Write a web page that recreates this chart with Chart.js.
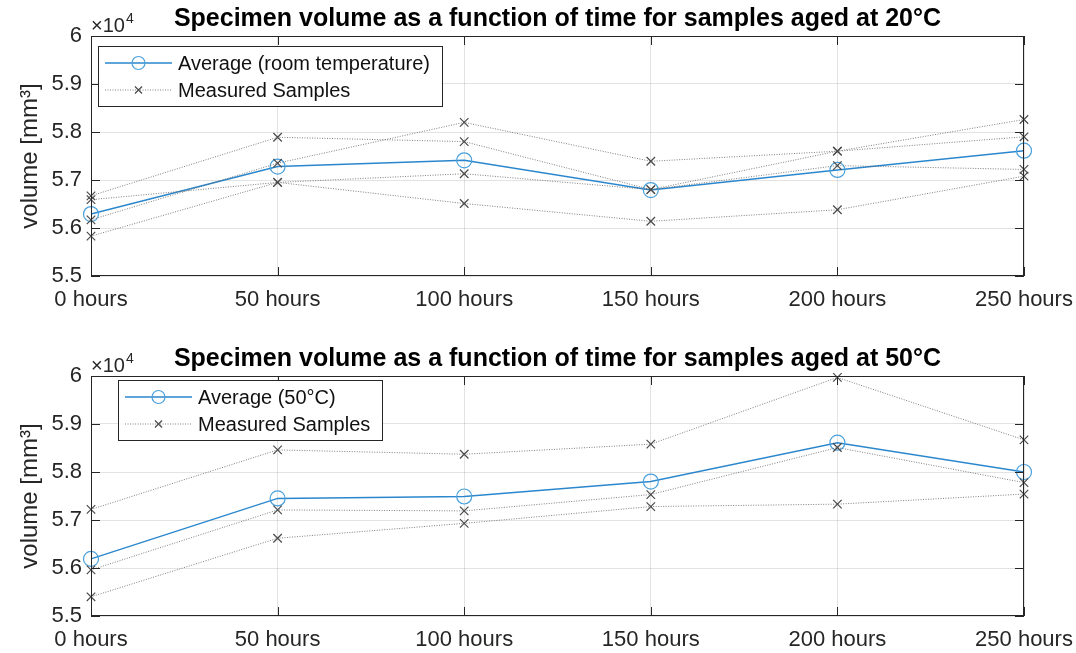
<!DOCTYPE html>
<html>
<head>
<meta charset="utf-8">
<script src="https://cdn.jsdelivr.net/npm/chart.js@4.4.1/dist/chart.umd.min.js"></script>
<style>
  body { margin: 0; background: #fff; width: 1076px; height: 653px; overflow: hidden; position: relative; }
  canvas { position: absolute; left: 0; }
  #chart20 { top: 0; }
  #chart50 { top: 340px; }
</style>
</head>
<body>
<canvas id="chart20" width="1076" height="326"></canvas>
<canvas id="chart50" width="1076" height="313"></canvas>
<script>
const hours = ['0 hours', '50 hours', '100 hours', '150 hours', '200 hours', '250 hours'];
const yTickValues = [55000, 56000, 57000, 58000, 59000, 60000];
const yExponent = 4;

// aged at 20°C (room temperature), volume in mm^3
const avg20 = [56290, 57280, 57410, 56790, 57210, 57610];
const s20a = [56670, 57890, 57800, 56800, 57600, 57900];
const s20b = [56170, 57350, 58200, 57390, 57600, 58260];
const s20c = [56590, 56950, 57130, 56800, 57300, 57220];
const s20d = [55830, 56950, 56510, 56140, 56380, 57080];

// aged at 50°C
const avg50 = [56190, 57450, 57490, 57800, 58610, 58000];
const s50a = [57220, 58460, 58370, 58580, 59970, 58670];
const s50b = [55960, 57210, 57190, 57530, 58510, 57780];
const s50c = [55400, 56620, 56930, 57280, 57330, 57540];

const FONT = '"Liberation Sans", Arial, Helvetica, sans-serif';
const AXIS_COLOR = '#262626';
const BLUE = '#2b87cd';

function avgDataset(label, data) {
    return {
        label: label,
        data: data,
        borderColor: BLUE,
        borderWidth: 1.5,
        pointStyle: 'circle',
        pointRadius: 7.5,
        pointBackgroundColor: 'rgba(0,0,0,0)',
        pointBorderColor: '#4aa0dc',
        pointBorderWidth: 1.2,
        tension: 0,
        clip: false,
        order: 1
    };
}

function sampleDataset(data) {
    return {
        label: 'Measured Samples',
        data: data,
        borderColor: 'rgba(95,95,95,0.8)',
        borderWidth: 1,
        borderDash: [1, 1.5],
        pointStyle: 'crossRot',
        pointRadius: 6,
        pointBorderColor: '#4a4a4a',
        pointBorderWidth: 1.2,
        tension: 0,
        clip: false,
        order: 0
    };
}

function drawLegendRow(ctx, x0, x1, y, ds, text, textX) {
    ctx.save();
    ctx.strokeStyle = ds.borderColor;
    ctx.lineWidth = ds.borderWidth;
    ctx.setLineDash(ds.borderDash || []);
    ctx.beginPath();
    ctx.moveTo(x0, y);
    ctx.lineTo(x1, y);
    ctx.stroke();
    ctx.setLineDash([]);
    ctx.strokeStyle = ds.pointBorderColor;
    ctx.fillStyle = ds.pointBackgroundColor || 'rgba(0,0,0,0)';
    ctx.lineWidth = ds.pointBorderWidth;
    Chart.helpers.drawPoint(ctx, { pointStyle: ds.pointStyle, radius: ds.pointRadius - 1, borderWidth: ds.pointBorderWidth }, (x0 + x1) / 2, y);
    ctx.fillStyle = '#111';
    ctx.font = '20px ' + FONT;
    ctx.textAlign = 'left';
    ctx.textBaseline = 'middle';
    ctx.fillText(text, textX, y + 1);
    ctx.restore();
}

// MATLAB-like axes: box, inward ticks, title, x10^4 note and legend inside the plot
const matlabAxes = {
    id: 'matlabAxes',
    afterDraw(chart, args, opts) {
        const { ctx, chartArea: a, scales: { x, y } } = chart;
        ctx.save();
        ctx.strokeStyle = AXIS_COLOR;
        ctx.lineWidth = 1;
        ctx.strokeRect(Math.round(a.left) + 0.5, Math.round(a.top) + 0.5, Math.round(a.width) - 1, Math.round(a.height) - 1);

        const len = 9;
        ctx.beginPath();
        y.ticks.forEach(t => {
            const py = Math.round(y.getPixelForValue(t.value)) + 0.5;
            ctx.moveTo(a.left, py); ctx.lineTo(a.left + len, py);
            ctx.moveTo(a.right, py); ctx.lineTo(a.right - len, py);
        });
        x.ticks.forEach((t, i) => {
            const px = Math.round(x.getPixelForTick(i)) + 0.5;
            ctx.moveTo(px, a.top); ctx.lineTo(px, a.top + len);
            ctx.moveTo(px, a.bottom); ctx.lineTo(px, a.bottom - len);
        });
        ctx.stroke();

        // title centred on the plot area
        ctx.fillStyle = '#000';
        ctx.font = 'bold 25px ' + FONT;
        ctx.textAlign = 'center';
        ctx.textBaseline = 'middle';
        ctx.fillText(opts.title, (a.left + a.right) / 2, a.top - 17);

        // exponent note
        ctx.fillStyle = AXIS_COLOR;
        ctx.textAlign = 'left';
        ctx.textBaseline = 'alphabetic';
        ctx.font = '20px ' + FONT;
        ctx.fillText('\u00d710', a.left, a.top - 4);
        const w = ctx.measureText('\u00d710').width;
        ctx.font = '14px ' + FONT;
        ctx.fillText(String(yExponent), a.left + w + 1, a.top - 13);

        // legend
        const lg = opts.legend;
        const ds = chart.data.datasets;
        const avgDs = ds.find(d => d.order === 1);
        const smpDs = ds.find(d => d.order === 0);
        ctx.font = '20px ' + FONT;
        const tw = Math.max(ctx.measureText(avgDs.label).width, ctx.measureText(smpDs.label).width);
        const bx = a.left + lg.dx, by = a.top + lg.dy;
        const bw = 80 + tw + 12, bh = 60;
        ctx.fillStyle = '#fff';
        ctx.fillRect(bx, by, bw, bh);
        ctx.strokeStyle = AXIS_COLOR;
        ctx.lineWidth = 1;
        ctx.strokeRect(Math.round(bx) + 0.5, Math.round(by) + 0.5, Math.round(bw), bh);
        drawLegendRow(ctx, bx + 7, bx + 74, by + 17, avgDs, avgDs.label, bx + 80);
        drawLegendRow(ctx, bx + 7, bx + 74, by + 44, smpDs, smpDs.label, bx + 80);
        ctx.restore();
    }
};

function makeChart(id, title, avgLabel, avg, samples, legendPos, xAxisHeight) {
    const datasets = [avgDataset(avgLabel, avg)].concat(samples.map(s => sampleDataset(s)));
    const ctx = document.getElementById(id).getContext('2d');
    return new Chart(ctx, {
        type: 'line',
        data: { labels: hours, datasets: datasets },
        plugins: [matlabAxes],
        options: {
            responsive: false,
            animation: false,
            layout: { padding: { top: 36, right: 0, left: 0, bottom: 0 } },
            plugins: {
                legend: { display: false },
                tooltip: { enabled: false },
                title: { display: false },
                matlabAxes: { title: title, legend: legendPos }
            },
            scales: {
                x: {
                    type: 'category',
                    offset: false,
                    grid: { color: 'rgba(38,38,38,0.13)', drawTicks: false },
                    border: { display: false },
                    ticks: { color: AXIS_COLOR, font: { family: FONT, size: 22 }, padding: 11, maxRotation: 0, autoSkip: false },
                    afterFit: (scale) => {
                        scale.height = xAxisHeight;
                        scale.paddingLeft = 0;
                        scale.paddingRight = 52;
                    }
                },
                y: {
                    min: yTickValues[0],
                    max: yTickValues[yTickValues.length - 1],
                    afterBuildTicks: (scale) => { scale.ticks = yTickValues.map(v => ({ value: v })); },
                    grid: { color: 'rgba(38,38,38,0.13)', drawTicks: false },
                    border: { display: false },
                    ticks: {
                        color: AXIS_COLOR,
                        font: { family: FONT, size: 22 },
                        padding: 9,
                        callback: (v) => String(+(v / Math.pow(10, yExponent)).toFixed(2))
                    },
                    title: {
                        display: true,
                        text: 'volume [mm\u00b3]',
                        color: AXIS_COLOR,
                        font: { family: FONT, size: 24 },
                        padding: { top: 16, bottom: 0 }
                    },
                    afterFit: (scale) => { scale.width = 91; }
                }
            }
        }
    });
}

makeChart('chart20', 'Specimen volume as a function of time for samples aged at 20\u00b0C',
    'Average (room temperature)', avg20, [s20a, s20b, s20c, s20d], { dx: 7, dy: 10 }, 50);
makeChart('chart50', 'Specimen volume as a function of time for samples aged at 50\u00b0C',
    'Average (50\u00b0C)', avg50, [s50a, s50b, s50c], { dx: 27, dy: 4 }, 37);
</script>
</body>
</html>
